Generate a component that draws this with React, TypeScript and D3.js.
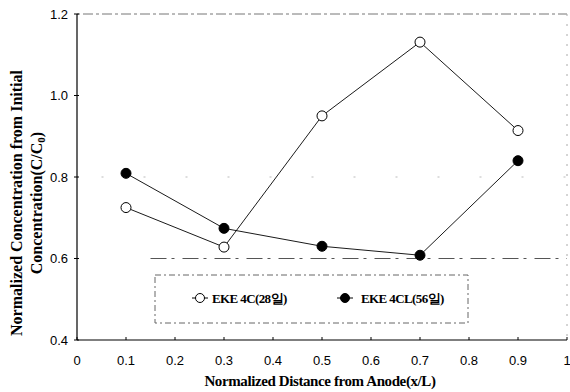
import React from "react";
import * as d3 from "d3";

const xPositions = [0.1, 0.3, 0.5, 0.7, 0.9];
const seriesOpen = [0.725, 0.628, 0.95, 1.131, 0.914];
const seriesFilled = [0.809, 0.674, 0.63, 0.608, 0.84];
const xTicks = [0, 0.1, 0.2, 0.3, 0.4, 0.5, 0.6, 0.7, 0.8, 0.9, 1];
const yTicks = [0.4, 0.6, 0.8, 1.0, 1.2];
const legendLabels = ["EKE 4C(28일)", "EKE 4CL(56일)"];

export default function App() {
  const W = 570, H = 392;
  const x = d3.scaleLinear().domain([0, 1]).range([77, 567]);
  const y = d3.scaleLinear().domain([0.4, 1.2]).range([340, 14]);
  const line = d3.line<number>().x((_, i) => x(xPositions[i])).y((d) => y(d));
  const serif = "Liberation Serif";
  const sans = "Liberation Sans";
  const fmtX = (v: number) => (v === 0 || v === 1 ? String(v) : v.toFixed(1));
  return (
    <svg width={W} height={H} style={{ position: "absolute", left: 0, top: 0, background: "#fff" }}>
      {/* frame */}
      <line x1={x(0)} x2={x(1)} y1={y(1.2)} y2={y(1.2)} stroke="#777" strokeWidth={1} strokeDasharray="3,3,10,3" />
      <line x1={x(1)} x2={x(1)} y1={y(1.2)} y2={y(0.4)} stroke="#aaa" strokeWidth={1} strokeDasharray="2,8" />
      {/* grid */}
      <line x1={x(0.15)} x2={x(1)} y1={y(0.6)} y2={y(0.6)} stroke="#555" strokeWidth={1} strokeDasharray="16,5,3,8" />
      <line x1={x(0.05)} x2={x(1)} y1={y(0.8)} y2={y(0.8)} stroke="#bbb" strokeWidth={1} strokeDasharray="2,40" />
      {/* axes */}
      <line x1={x(0)} x2={x(0)} y1={y(1.2)} y2={y(0.4)} stroke="#000" strokeWidth={1.2} />
      <line x1={x(0)} x2={x(1)} y1={y(0.4)} y2={y(0.4)} stroke="#000" strokeWidth={1.2} />
      {yTicks.map((t) => (
        <g key={"y" + t}>
          <line x1={x(0) - 3} x2={x(0) + 2} y1={y(t)} y2={y(t)} stroke="#000" />
          <text x={x(0) - 9} y={y(t) + 4.5} textAnchor="end" fontFamily={sans} fontSize={13} fill="#000">
            {t.toFixed(1)}
          </text>
        </g>
      ))}
      {xTicks.map((t) => (
        <g key={"x" + t}>
          <line x1={x(t)} x2={x(t)} y1={y(0.4) - 3} y2={y(0.4)} stroke="#000" />
          <text x={x(t)} y={365} textAnchor="middle" fontFamily={sans} fontSize={13} fill="#000">
            {fmtX(t)}
          </text>
        </g>
      ))}
      {/* series */}
      <path d={line(seriesOpen) || ""} fill="none" stroke="#000" strokeWidth={0.9} />
      <path d={line(seriesFilled) || ""} fill="none" stroke="#000" strokeWidth={0.9} />
      {seriesOpen.map((v, i) => (
        <circle key={"o" + i} cx={x(xPositions[i])} cy={y(v)} r={5} fill="#fff" stroke="#000" strokeWidth={1} />
      ))}
      {seriesFilled.map((v, i) => (
        <circle key={"f" + i} cx={x(xPositions[i])} cy={y(v)} r={5} fill="#000" stroke="#000" strokeWidth={1} />
      ))}
      {/* legend */}
      <rect x={155} y={275} width={313} height={48} fill="none" stroke="#666" strokeWidth={1} strokeDasharray="6,3,2,3" />
      <line x1={192} x2={208} y1={298} y2={298} stroke="#000" />
      <circle cx={200} cy={298} r={4.5} fill="#fff" stroke="#000" />
      <text x={212} y={303} fontFamily={serif} fontWeight="bold" fontSize={13} letterSpacing={-0.6} fill="#000">
        {legendLabels[0]}
      </text>
      <line x1={337} x2={353} y1={298} y2={298} stroke="#000" />
      <circle cx={345} cy={298} r={4.5} fill="#000" stroke="#000" />
      <text x={361} y={303} fontFamily={serif} fontWeight="bold" fontSize={13} letterSpacing={-0.6} fill="#000">
        {legendLabels[1]}
      </text>
      {/* axis titles */}
      <text x={320} y={386} textAnchor="middle" fontFamily={serif} fontWeight="bold" fontSize={15} letterSpacing={-0.4} fill="#000">
        Normalized Distance from Anode(x/L)
      </text>
      <text transform="translate(22,203) rotate(-90)" textAnchor="middle" fontFamily={serif} fontWeight="bold" fontSize={16} fill="#000">
        Normalized Concentration from Initial
      </text>
      <text transform="translate(42,203) rotate(-90)" textAnchor="middle" fontFamily={serif} fontWeight="bold" fontSize={16} fill="#000">
        Concentration(C/C<tspan fontSize={11} dy={3}>0</tspan><tspan dy={-3}>)</tspan>
      </text>
    </svg>
  );
}
